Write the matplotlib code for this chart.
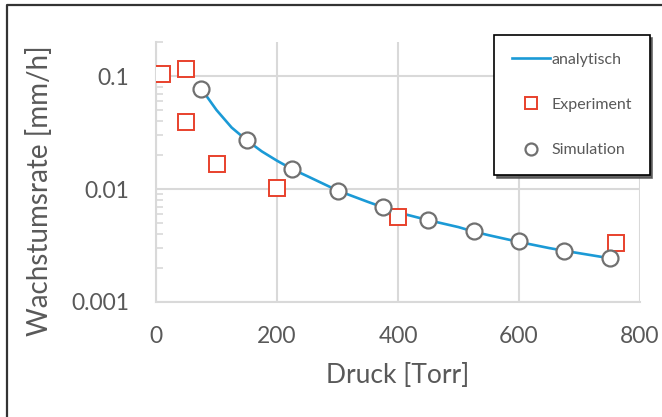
import matplotlib
matplotlib.use("Agg")
import matplotlib.pyplot as plt
from matplotlib.lines import Line2D
from matplotlib.ticker import LogLocator, FixedLocator, FixedFormatter, NullFormatter

# ---- data ----
analytic_x = [75, 100, 125, 150, 175, 200, 225, 250, 300, 350, 375, 400,
              450, 500, 525, 550, 600, 650, 675, 700, 750]
analytic_y = [0.077, 0.050, 0.035, 0.027, 0.0215, 0.0178, 0.015, 0.013, 0.0097,
              0.0077, 0.0069, 0.0062, 0.0053, 0.0046, 0.0042, 0.0039, 0.0034,
              0.0030, 0.00284, 0.0027, 0.00244]

exp_x = [10, 50, 50, 100, 200, 400, 760]
exp_y = [0.105, 0.115, 0.039, 0.0165, 0.0103, 0.0057, 0.0033]

sim_x = [75, 150, 225, 300, 375, 450, 525, 600, 675, 750]
sim_y = [0.077, 0.027, 0.0149, 0.0097, 0.0069, 0.00528, 0.00422, 0.00344,
         0.00284, 0.00244]

x_ticks = [0, 200, 400, 600, 800]
y_ticks = [0.001, 0.01, 0.1]
y_ticklabels = ["0.001", "0.01", "0.1"]

label_x = "Druck [Torr]"
label_y = "Wachstumsrate [mm/h]"
legend_labels = ["analytisch", "Experiment", "Simulation"]

# ---- style ----
plt.rcParams['font.family'] = ['Lato', 'DejaVu Sans']
txt = '#595959'
grid_c = '#d9d9d9'
blue = '#1b9ad6'
red = '#e8412c'
grey = '#707070'

fig = plt.figure(figsize=(6.62, 4.17), dpi=100)
fig.patch.set_facecolor('white')
# outer frame (left and top edges visible)
fig.add_artist(Line2D([6.5 / 662, 6.5 / 662, 1.0], [0.0, 1 - 4.5 / 417, 1 - 4.5 / 417],
                      transform=fig.transFigure, color='#333333', lw=1.6))

ax = fig.add_axes([156 / 662, 1 - 302 / 417, (640 - 156) / 662, (302 - 42) / 417])
ax.set_yscale('log')
ax.set_xlim(0, 800)
ax.set_ylim(0.001, 0.2)

for s in ['top', 'right']:
    ax.spines[s].set_visible(False)
for s in ['left', 'bottom']:
    ax.spines[s].set_color(grid_c)
    ax.spines[s].set_linewidth(1.5)

ax.xaxis.set_major_locator(FixedLocator(x_ticks))
ax.yaxis.set_major_locator(FixedLocator(y_ticks))
ax.yaxis.set_major_formatter(FixedFormatter(y_ticklabels))
ax.yaxis.set_minor_locator(LogLocator(base=10, subs=range(2, 10)))
ax.yaxis.set_minor_formatter(NullFormatter())
ax.tick_params(axis='both', which='major', length=0, labelsize=16.5,
               labelcolor=txt, pad=19)
ax.tick_params(axis='x', which='major', pad=17)
ax.tick_params(axis='y', which='minor', direction='in', length=5,
               width=1.2, color=grid_c)
ax.tick_params(axis='x', which='minor', length=0)
ax.grid(True, which='major', color=grid_c, lw=1.5)
ax.set_axisbelow(True)

ax.plot(analytic_x, analytic_y, color=blue, lw=1.9, label=legend_labels[0],
        zorder=3)
ax.plot(exp_x, exp_y, ls='none', marker='s', ms=11, mfc='white',
        mec=red, mew=1.4, label=legend_labels[1], zorder=4)
ax.plot(sim_x, sim_y, ls='none', marker='o', ms=11.5, mfc='white',
        mec=grey, mew=1.6, label=legend_labels[2], zorder=5)

ax.set_xlabel(label_x, fontsize=19, color=txt, labelpad=12)
ax.set_ylabel(label_y, fontsize=20, color=txt)
ax.yaxis.set_label_coords(-(156 - 40) / 484, (302 - 191) / 260)
ax.yaxis.label.set_va('center')

leg = fig.legend(loc='upper left', bbox_to_anchor=(494 / 662, 1 - 35 / 417),
                 frameon=True, fancybox=False, shadow={'color': '#555555', 'alpha': 0.9},
                 edgecolor='black', fontsize=11.5, labelspacing=1.95,
                 handlelength=2.4, handletextpad=0.1, borderpad=1.1,
                 borderaxespad=0, markerscale=0.75)
leg.get_frame().set_linewidth(1.2)
for t in leg.get_texts():
    t.set_color(txt)

fig.savefig('out.png', dpi=100)
